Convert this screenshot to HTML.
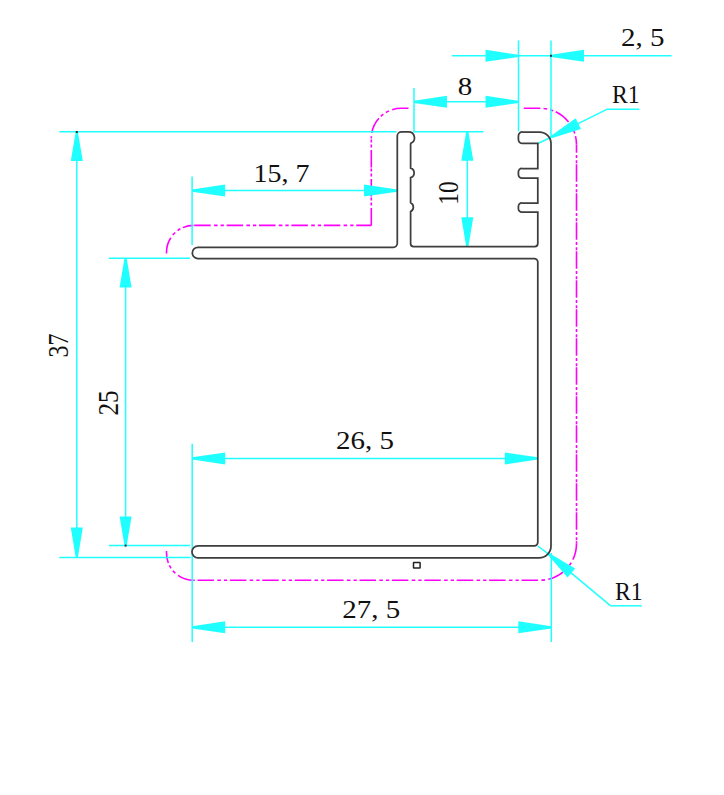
<!DOCTYPE html>
<html><head><meta charset="utf-8"><style>
html,body{margin:0;padding:0;background:#fff;width:724px;height:795px;overflow:hidden}
svg{display:block}
text{font-family:"Liberation Serif",serif;font-size:26px;fill:#111}
</style></head><body>
<svg width="724" height="795" viewBox="0 0 724 795">
<g stroke="#ff00ff" stroke-width="1.6" fill="none">
<path d="M 166.5,253.5 V 252.5 A 27 27 0 0 1 193.5,225.4" stroke-dasharray="16.5 3.3 3.6 3 3.3 2.7" stroke-dashoffset="0.0"/>
<path d="M 193.5,225.4 H 371.3" stroke-dasharray="16.5 3.3 3.6 3 3.3 2.7" stroke-dashoffset="31.7"/>
<path d="M 371.3,225.4 V 138.3" stroke-dasharray="17.5 2.3 3 2.2 3 1" stroke-dashoffset="0.0"/>
<path d="M 408.5,108.3 H 401.1 A 29.8 30 0 0 0 371.3,138.3" stroke-dasharray="16.5 3.3 3.6 3 3.3 2.7" stroke-dashoffset="0.0"/>
<path d="M 523.8,108.3 H 540.2 A 36.3 36.3 0 0 1 576.5,144.6" stroke-dasharray="16.5 3.3 3.6 3 3.3 2.7" stroke-dashoffset="0.0"/>
<path d="M 576.5,144.6 V 543.7" stroke-dasharray="17.5 2.3 3 2.2 3 1" stroke-dashoffset="9.4"/>
<path d="M 576.5,543.7 A 36.5 36.5 0 0 1 540.2,580.2" stroke-dasharray="16.5 3.3 3.6 3 3.3 2.7" stroke-dashoffset="0.0"/>
<path d="M 193.5,580.2 H 540.2" stroke-dasharray="16.5 3.3 3.6 3 3.3 2.7" stroke-dashoffset="28.4"/>
<path d="M 193.5,580.2 A 27 27 0 0 1 166.5,553 V 551" stroke-dasharray="16.5 3.3 3.6 3 3.3 2.7" stroke-dashoffset="0.0"/></g>
<g stroke="#20ffff" stroke-width="1.5" fill="none"><line x1="451.8" y1="55.8" x2="671.6" y2="55.8"/>
<line x1="518.5" y1="40.5" x2="518.5" y2="131.5"/>
<line x1="551.0" y1="40.5" x2="551.0" y2="137.0"/>
<line x1="414.0" y1="101.8" x2="518.5" y2="101.8"/>
<line x1="414.0" y1="88.0" x2="414.0" y2="131.8"/>
<line x1="537.9" y1="143.5" x2="551.0" y2="137.2"/>
<line x1="551.0" y1="137.2" x2="606.8" y2="109.3"/>
<line x1="606.8" y1="109.3" x2="639.2" y2="109.3"/>
<line x1="59.4" y1="131.8" x2="396.5" y2="131.8"/>
<line x1="413.5" y1="131.8" x2="483.5" y2="131.8"/>
<line x1="467.3" y1="131.8" x2="467.3" y2="246.6"/>
<line x1="192.1" y1="190.6" x2="397.0" y2="190.6"/>
<line x1="192.1" y1="176.4" x2="192.1" y2="245.0"/>
<line x1="125.6" y1="258.3" x2="125.6" y2="545.6"/>
<line x1="108.7" y1="258.3" x2="190.0" y2="258.3"/>
<line x1="109.0" y1="545.6" x2="190.0" y2="545.6"/>
<line x1="76.8" y1="132.0" x2="76.8" y2="557.5"/>
<line x1="59.3" y1="557.5" x2="190.5" y2="557.5"/>
<line x1="192.2" y1="458.4" x2="537.8" y2="458.4"/>
<line x1="192.2" y1="443.8" x2="192.2" y2="642.0"/>
<line x1="192.2" y1="627.3" x2="551.3" y2="627.3"/>
<line x1="551.3" y1="553.0" x2="551.3" y2="642.0"/>
<line x1="537.7" y1="546.0" x2="548.3" y2="553.8"/>
<line x1="548.3" y1="553.8" x2="610.7" y2="605.8"/>
<line x1="610.7" y1="605.8" x2="641.6" y2="605.8"/></g>
<g fill="#20ffff" stroke="none"><polygon points="518.5,54.7 485.5,49.8 485.5,61.8 518.5,56.9"/>
<polygon points="551.0,54.7 584.0,49.8 584.0,61.8 551.0,56.9"/>
<polygon points="414.0,100.7 447.0,95.8 447.0,107.8 414.0,102.9"/>
<polygon points="518.5,100.7 485.5,95.8 485.5,107.8 518.5,102.9"/>
<polygon points="551.5,138.2 581.0,129.1 575.6,118.3 550.5,136.2"/>
<polygon points="466.2,131.8 461.3,160.8 473.3,160.8 468.4,131.8"/>
<polygon points="466.2,246.6 461.3,217.2 473.3,217.2 468.4,246.6"/>
<polygon points="192.1,189.5 225.1,184.6 225.1,196.6 192.1,191.7"/>
<polygon points="397.0,189.5 364.0,184.6 364.0,196.6 397.0,191.7"/>
<polygon points="124.5,258.3 119.6,287.6 131.6,287.6 126.7,258.3"/>
<polygon points="124.5,545.6 119.6,516.6 131.6,516.6 126.7,545.6"/>
<polygon points="75.7,132.0 70.8,161.0 82.8,161.0 77.9,132.0"/>
<polygon points="75.7,557.5 70.8,527.5 82.8,527.5 77.9,557.5"/>
<polygon points="192.2,457.3 225.2,452.4 225.2,464.4 192.2,459.5"/>
<polygon points="537.8,457.3 504.8,452.4 504.8,464.4 537.8,459.5"/>
<polygon points="192.2,626.2 225.2,621.3 225.2,633.3 192.2,628.4"/>
<polygon points="551.3,626.2 518.3,621.3 518.3,633.3 551.3,628.4"/>
<polygon points="547.6,554.6 567.6,577.6 575.2,568.4 549.0,553.0"/></g>
<path d="M 198,247.3 H 393.3 A 4 4 0 0 0 397.3,243.3 V 136 A 4.2 4.2 0 0 1 401.5,131.8 H 408.3
A 6 6 0 0 1 410.8,143.3 L 410.6,144.5 V 168.2 A 4.9 4.9 0 0 1 410.6,177.6 V 202.8 A 4.9 4.9 0 0 1 410.6,211.6
V 243.6 A 3 3 0 0 0 413.6,246.6 H 534.8 A 3 3 0 0 0 537.8,243.6 V 212.2 H 522 A 3.5 3.5 0 0 1 518.4,208.7
V 206.5 A 3.5 3.5 0 0 1 522,203 H 537.8 V 178 H 522 A 3.5 3.5 0 0 1 518.4,174.5 V 172 A 3.5 3.5 0 0 1 522,168.5
H 537.8 V 143.4 H 522.5 A 4 4 0 0 1 518.4,139.4 V 136 A 4 4 0 0 1 522.5,132 H 539.5 A 11.5 11.5 0 0 1 551,143.5
V 546 A 11.9 11.9 0 0 1 539.1,557.9 H 198 A 6.05 6.05 0 0 1 198,545.8 H 534.3 A 3.5 3.5 0 0 0 537.8,542.3
V 262.1 A 3.5 3.5 0 0 0 534.3,258.6 H 198 A 5.65 5.65 0 0 1 198,247.3 Z" stroke="#3e3e3e" stroke-width="1.75" fill="none"/>
<rect x="413.5" y="562.5" width="6.6" height="5.6" rx="0.4" stroke="#222" stroke-width="1.5" fill="none"/>
<g fill="#333"><rect x="550" y="54.8" width="2" height="2"/><rect x="75.8" y="131" width="2" height="2"/><rect x="124.6" y="544.6" width="2" height="2"/></g>
<g><text transform="translate(621.1,45.6) scale(1.115,1)">2, 5</text>
<text transform="translate(457.7,95.2) scale(1.115,1)">8</text>
<text transform="translate(612.0,103.0) scale(0.913,1)">R1</text>
<text transform="translate(253.5,182.1) scale(1.075,1)">15, 7</text>
<text transform="translate(336.1,449.1) scale(1.115,1)">26, 5</text>
<text transform="translate(342.3,617.9) scale(1.115,1)">27, 5</text>
<text transform="translate(615.0,600.0) scale(0.913,1)">R1</text>
<text transform="translate(458.4,204.8) scale(1.173,0.900) rotate(-90)">10</text>
<text transform="translate(67.8,357.5) scale(1.173,0.920) rotate(-90)">37</text>
<text transform="translate(118.1,415.5) scale(1.173,0.970) rotate(-90)">25</text></g>
</svg></body></html>
